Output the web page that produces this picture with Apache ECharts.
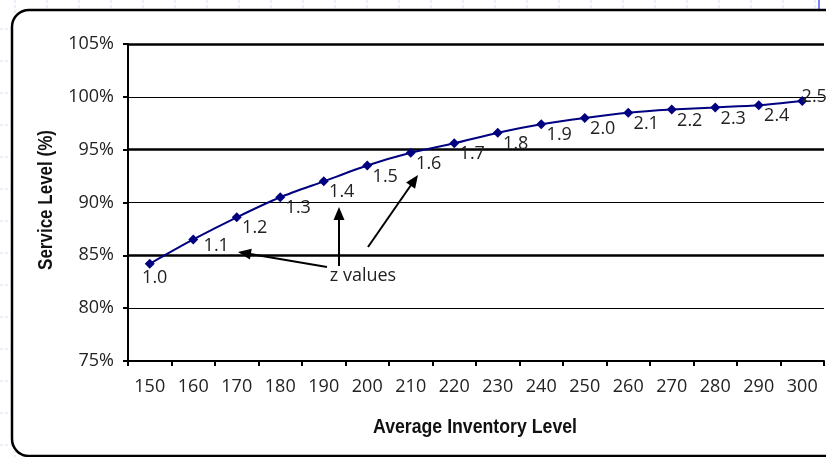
<!DOCTYPE html>
<html><head><meta charset="utf-8">
<script src="https://cdn.jsdelivr.net/npm/echarts@6/dist/echarts.min.js"></script>
<style>html,body{margin:0;padding:0;background:#fff}#c{width:826px;height:457px}</style>
</head><body><div id="c"></div>
<script>
const inventoryLevels = ['150','160','170','180','190','200','210','220','230','240','250','260','270','280','290','300'];
const serviceLevels = [84.2, 86.5, 88.6, 90.5, 92.0, 93.5, 94.7, 95.6, 96.6, 97.4, 98.0, 98.5, 98.8, 99.0, 99.2, 99.6];
const zValues = ['1.0','1.1','1.2','1.3','1.4','1.5','1.6','1.7','1.8','1.9','2.0','2.1','2.2','2.3','2.4','2.5'];
const thickGridValues = [85, 95, 105];
const xTitle = 'Average Inventory Level';
const yTitle = 'Service Level (%)';
const annotationText = 'z values';

const labelFont = 'Open Sans';
const titleFont = '"Liberation Sans", Arial, sans-serif';
const defaultLabelOffset = [18, 11];
const labelOffsetOverrides = {0: [5, 14], 1: [23, 6], 15: [12, -4]};

const chart = echarts.init(document.getElementById('c'), null, {renderer: 'canvas'});

function arrow(x1, y1, x2, y2) {
  const dx = x2 - x1, dy = y2 - y1, len = Math.hypot(dx, dy);
  const ux = dx / len, uy = dy / len, hl = 13, hw = 5.5;
  const bx = x2 - ux * hl, by = y2 - uy * hl;
  return [
    {type: 'line', z: 50, shape: {x1: x1, y1: y1, x2: bx + ux * 2, y2: by + uy * 2}, style: {stroke: '#000', lineWidth: 2}},
    {type: 'polygon', z: 50, shape: {points: [[x2, y2], [bx - uy * hw, by + ux * hw], [bx + uy * hw, by - ux * hw]]}, style: {fill: '#000'}}
  ];
}

const bg = [];
for (let x = 15; x < 826; x += 32) bg.push({type: 'line', z: -20, shape: {x1: x, y1: 0, x2: x, y2: 457}, style: {stroke: '#d9dcf3', lineWidth: 1, lineDash: [3, 2]}});
for (let y = 29; y < 457; y += 32) bg.push({type: 'line', z: -20, shape: {x1: 0, y1: y, x2: 826, y2: y}, style: {stroke: '#d9dcf3', lineWidth: 1, lineDash: [3, 2]}});
bg.push({type: 'line', z: -19, shape: {x1: 819, y1: 0, x2: 819, y2: 12}, style: {stroke: '#7a86f5', lineWidth: 2}});
bg.push({type: 'rect', z: -10, shape: {x: 12, y: 10, width: 836, height: 446, r: 17}, style: {fill: '#fff', stroke: '#000', lineWidth: 2.5}});

const graphics = bg.concat(
  [
    {type: 'text', z: 50, x: 363, y: 276, style: {text: annotationText, font: '18px ' + labelFont, fill: '#222', textAlign: 'center', textVerticalAlign: 'middle'}},
    {type: 'text', z: 50, x: 475, y: 427, scaleX: 0.885, style: {text: xTitle, font: 'bold 20px ' + titleFont, fill: '#111', textAlign: 'center', textVerticalAlign: 'middle'}},
    {type: 'text', z: 50, x: 46, y: 200, rotation: Math.PI / 2, scaleX: 0.85, style: {text: yTitle, font: 'bold 20px ' + titleFont, fill: '#111', textAlign: 'center', textVerticalAlign: 'middle'}}
  ],
  arrow(327, 267, 238, 252),
  arrow(339, 266, 339, 207),
  arrow(368, 247, 418, 175)
);

chart.setOption({
  animation: false,
  backgroundColor: '#fff',
  graphic: graphics,
  grid: {left: 128, right: 2, top: 44, bottom: 96, containLabel: false},
  xAxis: {
    type: 'category',
    data: inventoryLevels,
    boundaryGap: true,
    axisLine: {lineStyle: {color: '#000', width: 2}},
    axisTick: {show: true, length: 5, lineStyle: {color: '#000', width: 2}},
    axisLabel: {fontFamily: labelFont, fontSize: 18, color: '#222', margin: 17, interval: 0},
    splitLine: {show: false}
  },
  yAxis: {
    type: 'value',
    min: 75, max: 105, interval: 5,
    axisLine: {show: true, lineStyle: {color: '#000', width: 2}},
    axisTick: {show: true, length: 5, lineStyle: {color: '#000', width: 2}},
    axisLabel: {fontFamily: labelFont, fontSize: 18, color: '#222', margin: 14, formatter: '{value}%'},
    splitLine: {show: true, lineStyle: {color: '#000', width: 1}}
  },
  series: [{
    type: 'line',
    data: serviceLevels.map((v, i) => ({
      value: v,
      label: {offset: labelOffsetOverrides[i] || defaultLabelOffset}
    })),
    smooth: 0.25,
    symbol: 'diamond',
    symbolSize: 10,
    itemStyle: {color: '#000080'},
    lineStyle: {color: '#000080', width: 2},
    label: {
      show: true,
      position: 'inside',
      fontFamily: labelFont,
      fontSize: 18,
      color: '#222',
      formatter: p => zValues[p.dataIndex]
    },
    markLine: {
      silent: true,
      symbol: 'none',
      label: {show: false},
      lineStyle: {color: '#000', width: 2.5, type: 'solid'},
      emphasis: {disabled: true},
      data: thickGridValues.map(v => ({yAxis: v}))
    },
    z: 5
  }]
});
</script></body></html>
